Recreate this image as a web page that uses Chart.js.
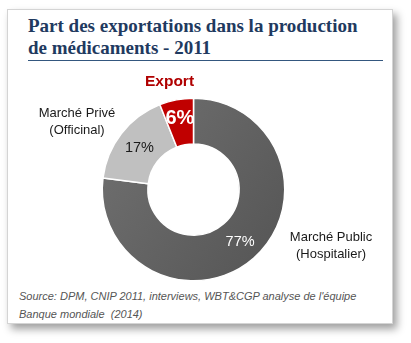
<!DOCTYPE html>
<html>
<head>
<meta charset="utf-8">
<script src="https://cdn.jsdelivr.net/npm/chart.js@4.4.0/dist/chart.umd.min.js"></script>
<style>
  html, body { margin:0; padding:0; background:#fff; width:411px; height:343px; overflow:hidden; }
  #card { position:absolute; left:7px; top:9px; width:384px; height:313px; border:1px solid #d4d4d4; background:#fff;
          box-shadow: 4px 5px 8px rgba(0,0,0,0.38); }
  #title { position:absolute; left:28px; top:15px; width:360px; font-family:"Liberation Serif", serif; font-weight:bold;
           font-size:19px; line-height:22px; color:#1F3A60; }
  #rule { position:absolute; left:28px; top:60px; width:355px; height:0; border-top:1px solid #34577f; }
  #source { position:absolute; left:19px; top:287px; font-family:"Liberation Sans", Arial, sans-serif; font-style:italic;
            font-size:11px; line-height:18px; color:#555; white-space:nowrap; }
  canvas { position:absolute; left:0; top:0; }
</style>
</head>
<body>
<div id="card"></div>
<div id="title">Part des exportations dans la production<br>de médicaments - 2011</div>
<div id="rule"></div>
<div id="source">Source: DPM, CNIP 2011, interviews, WBT&amp;CGP analyse de l'équipe<br>Banque mondiale &nbsp;(2014)</div>
<canvas id="c" width="411" height="343"></canvas>
<script>
const categories = ['Marché Public (Hospitalier)', 'Marché Privé (Officinal)', 'Export'];
const categoryLines = [['Marché Public', '(Hospitalier)'], ['Marché Privé', '(Officinal)'], ['Export']];
const values = [77, 17, 6];
const colors = ['#606060', '#c0c0c0', '#c00000'];

function sliceColor(ctx) {
  const i = ctx.dataIndex;
  const area = ctx.chart.chartArea;
  if (i !== 0 || !area) return colors[i];
  const g = ctx.chart.ctx.createLinearGradient(area.left, area.top + area.height * 0.3, area.right, area.bottom);
  g.addColorStop(0, '#6e6e6e');
  g.addColorStop(1, '#545454');
  return g;
}

const labelPlugin = {
  id: 'sliceLabels',
  afterDatasetsDraw(chart, args, opts) {
    const ctx = chart.ctx;
    const meta = chart.getDatasetMeta(0);
    meta.data.forEach((arc, i) => {
      const p = arc.getProps(['x','y','startAngle','endAngle','outerRadius','innerRadius'], true);
      const mid = (p.startAngle + p.endAngle) / 2;
      const r = (p.innerRadius + p.outerRadius) / 2 + opts.pctShift[i];
      const px = p.x + Math.cos(mid) * r;
      const py = p.y + Math.sin(mid) * r;
      ctx.save();
      ctx.textAlign = 'center';
      ctx.textBaseline = 'middle';
      ctx.fillStyle = opts.pctColor[i];
      ctx.font = opts.pctFont[i];
      ctx.fillText(values[i] + '%', px, py);
      const off = opts.catOffset[i];
      const lines = categoryLines[i];
      ctx.fillStyle = opts.catColor[i];
      ctx.font = opts.catFont[i];
      const lh = opts.catLineHeight;
      lines.forEach((ln, k) => {
        ctx.fillText(ln, p.x + off[0], p.y + off[1] + (k - (lines.length - 1) / 2) * lh);
      });
      ctx.restore();
    });
  }
};

new Chart(document.getElementById('c'), {
  type: 'doughnut',
  data: {
    labels: categories,
    datasets: [{
      data: values,
      backgroundColor: sliceColor,
      borderColor: '#ffffff',
      borderWidth: 1.5,
      hoverOffset: 0
    }]
  },
  options: {
    responsive: false,
    animation: false,
    cutout: '50%',
    layout: { padding: { left: 101.5, right: 125.5, top: 97.5, bottom: 61.5 } },
    plugins: {
      legend: { display: false },
      tooltip: { enabled: false },
      sliceLabels: {
        pctShift: [2, 0, 4],
        pctColor: ['#ffffff', '#1a1a1a', '#ffffff'],
        pctFont: ['14.5px "Liberation Sans", Arial, sans-serif', '14.5px "Liberation Sans", Arial, sans-serif', 'bold 20px "Liberation Sans", Arial, sans-serif'],
        catOffset: [[137.5, 56], [-116.5, -67.5], [-24, -107.5]],
        catColor: ['#1a1a1a', '#1a1a1a', '#b00000'],
        catFont: ['13px "Liberation Sans", Arial, sans-serif', '13px "Liberation Sans", Arial, sans-serif', 'bold 15.5px "Liberation Sans", Arial, sans-serif'],
        catLineHeight: 17
      }
    }
  },
  plugins: [labelPlugin]
});
</script>
</body>
</html>
